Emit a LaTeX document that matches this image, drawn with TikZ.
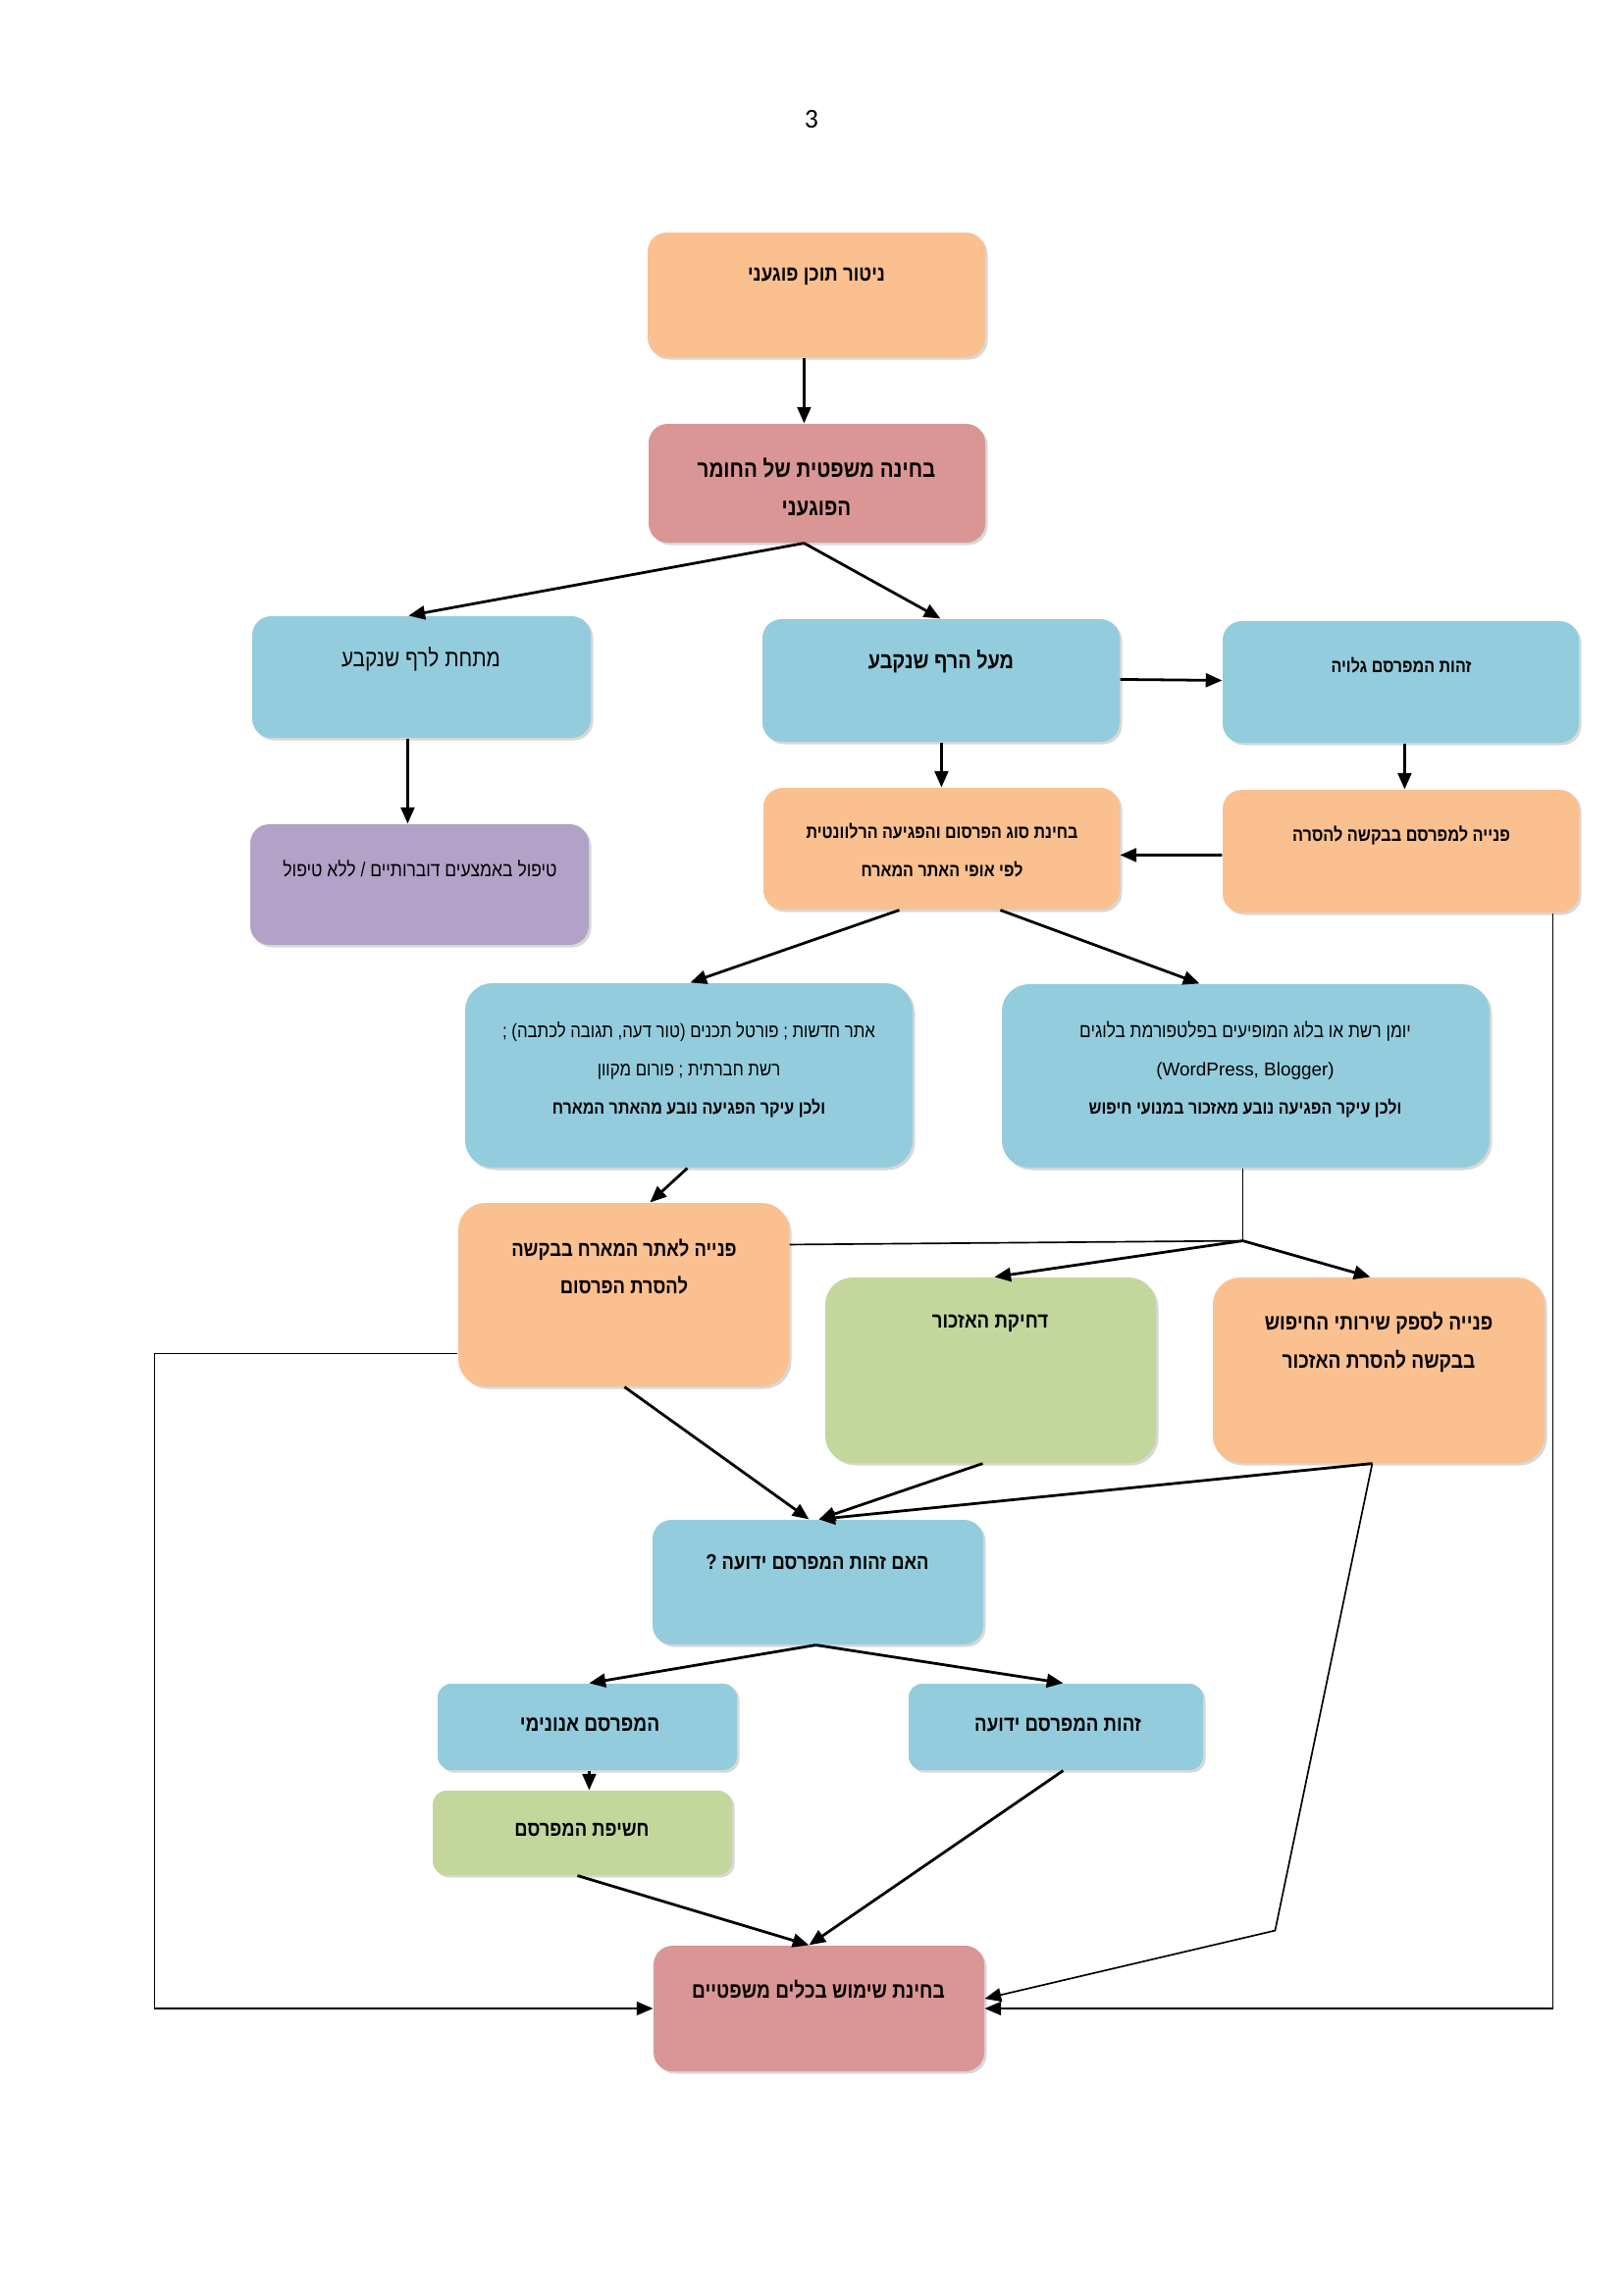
\documentclass[tikz,border=0pt]{standalone}
\usepackage{fontspec}
\usetikzlibrary{arrows.meta,calc,fit,shadows}
\TeXXeTstate=1
\newfontfamily\heb[Script=Hebrew, FakeStretch=0.85]{Liberation Sans}
\newfontfamily\latn{Liberation Sans}
\newfontfamily\pgnum{Carlito}
\newcommand{\hebline}[1]{\beginR #1\endR}
\definecolor{orng}{HTML}{FAC08F}
\definecolor{rose}{HTML}{D99694}
\definecolor{blu}{HTML}{93CDDD}
\definecolor{purp}{HTML}{B3A2C7}
\definecolor{grn}{HTML}{C3D69B}
\tikzset{
  bx/.style={fill=#1, draw=none, rounded corners=7pt, inner sep=0pt,
     drop shadow={shadow xshift=0.9pt, shadow yshift=-0.9pt, fill=black!30}},
  txt/.style={align=center, inner sep=0pt, text=black},
  hb/.style={font=\heb\bfseries\fontsize{#1}{14}\selectfont},
  hr/.style={font=\heb\fontsize{#1}{14}\selectfont},
  arr/.style={draw, line width=1pt, -{Triangle[length=6pt,width=5pt]}},
  thinarr/.style={draw, line width=0.6pt, -{Triangle[length=6pt,width=5pt]}},
  thinln/.style={draw, line width=0.6pt},
}
\begin{document}
\begin{tikzpicture}[x=0.3597pt,y=-0.3597pt]
\useasboundingbox (0,0) rectangle (1655,2338);
\fill[white] (0,0) rectangle (1655,2338);
\node[font=\pgnum\fontsize{10}{12}\selectfont] (pg) at (827,122) {3};
% boxes
\node[bx=orng, fit={(660,237)(1004,364)}] (b1) {};
\node[bx=rose, fit={(661,432)(1004,553)}] (b2) {};
\node[bx=blu,  fit={(257,628)(602,752)}] (b3) {};
\node[bx=purp, fit={(255,840)(600,963)}] (b4) {};
\node[bx=blu,  fit={(777,631)(1141,756)}] (b5) {};
\node[bx=blu,  fit={(1246,633)(1609,757)}] (b6) {};
\node[bx=orng, fit={(778,803)(1141,927)}] (b7) {};
\node[bx=orng, fit={(1246,805)(1609,930)}] (b8) {};
\node[bx=blu,  rounded corners=10pt, fit={(474,1002)(930,1190)}] (b9) {};
\node[bx=blu,  rounded corners=10pt, fit={(1021,1003)(1518,1190)}] (b10) {};
\node[bx=orng, rounded corners=10pt, fit={(467,1226)(804,1413)}] (b11) {};
\node[bx=grn,  rounded corners=10pt, fit={(841,1302)(1178,1491)}] (b12) {};
\node[bx=orng, rounded corners=10pt, fit={(1236,1302)(1574,1491)}] (b13) {};
\node[bx=blu,  fit={(665,1549)(1002,1676)}] (b14) {};
\node[bx=blu,  rounded corners=5pt, fit={(446,1716)(751,1804)}] (b15) {};
\node[bx=blu,  rounded corners=5pt, fit={(926,1716)(1226,1804)}] (b16) {};
\node[bx=grn,  rounded corners=5pt, fit={(441,1825)(746,1911)}] (b17) {};
\node[bx=rose, fit={(666,1983)(1003,2111)}] (b18) {};
% texts
\node[txt, hb=7.9] (t1) at (832,282) {\hebline{ניטור תוכן פוגעני}};
\node[txt, hb=8.7] (t2) at (832,496) {\hebline{בחינה משפטית של החומר}\\\hebline{הפוגעני}};
\node[txt, hr=8.8] (t3) at (429,672) {\hebline{מתחת לרף שנקבע}};
\node[txt, hr=7.4] (t4) at (428,885) {\hebline{טיפול באמצעים דוברותיים / ללא טיפול}};
\node[txt, hb=8.4] (t5) at (959,674) {\hebline{מעל הרף שנקבע}};
\node[txt, hb=6.8] (t6) at (1428,678) {\hebline{זהות המפרסם גלויה}};
\node[txt, hb=6.8] (t7) at (960,867) {\hebline{בחינת סוג הפרסום והפגיעה הרלוונטית}\\\hebline{לפי אופי האתר המארח}};
\node[txt, hb=6.9] (t8) at (1428,851) {\hebline{פנייה למפרסם בבקשה להסרה}};
\node[txt, hr=7.1] (t9) at (702,1090) {\hebline{אתר חדשות ; פורטל תכנים (טור דעה, תגובה לכתבה) ;}\\\hebline{רשת חברתית ; פורום מקוון}\\\bfseries\fontsize{6.8}{14}\selectfont\hebline{ולכן עיקר הפגיעה נובע מהאתר המארח}};
\node[txt, hr=7.3] (t10) at (1269,1090) {\hebline{יומן רשת או בלוג המופיעים בפלטפורמת בלוגים}\\{\latn\fontsize{6.8}{14}\selectfont (WordPress, Blogger)}\\\bfseries\fontsize{6.8}{14}\selectfont\hebline{ולכן עיקר הפגיעה נובע מאזכור במנועי חיפוש}};
\node[txt, hb=7.8] (t11) at (636,1291) {\hebline{פנייה לאתר המארח בבקשה}\\\hebline{להסרת הפרסום}};
\node[txt, hb=7.9] (t12) at (1009,1349) {\hebline{דחיקת האזכור}};
\node[txt, hb=8.1] (t13) at (1405,1368) {\hebline{פנייה לספק שירותי החיפוש}\\\hebline{בבקשה להסרת האזכור}};
\node[txt, hb=7.8] (t14) at (833,1592) {\hebline{האם זהות המפרסם ידועה ?}};
\node[txt, hb=8.1] (t15) at (601,1758) {\hebline{המפרסם אנונימי}};
\node[txt, hb=7.9] (t16) at (1078,1758) {\hebline{זהות המפרסם ידועה}};
\node[txt, hb=7.8] (t17) at (593,1865) {\hebline{חשיפת המפרסם}};
\node[txt, hb=8.1] (t18) at (834,2028) {\hebline{בחינת שימוש בכלים משפטיים}};
% connectors
\draw[arr] ($(b1.south west)+(160,0)$) -- ($(b2.north west)+(159,0)$);
\draw[arr] ($(b2.south west)+(159,0)$) -- ($(b3.north west)+(160,0)$);
\draw[arr] ($(b2.south west)+(159,0)$) -- ($(b5.north west)+(182,0)$);
\draw[arr] ($(b3.south west)+(159,0)$) -- ($(b4.north west)+(161,0)$);
\draw[arr] ($(b5.north east)+(0,62)$) -- ($(b6.north west)+(0,61)$);
\draw[arr] ($(b5.south west)+(183,0)$) -- ($(b7.north west)+(182,0)$);
\draw[arr] ($(b6.south west)+(186,0)$) -- ($(b8.north west)+(186,0)$);
\draw[arr] ($(b8.north west)+(0,67)$) -- ($(b7.north east)+(0,69)$);
\draw[thinarr] ($(b8.south west)+(337,0)$) |- (b18.east);
\draw[arr] ($(b7.south west)+(139,0)$) -- ($(b9.north west)+(230,0)$);
\draw[arr] ($(b7.south west)+(242,0)$) -- ($(b10.north west)+(202,0)$);
\draw[arr] ($(b9.south west)+(227,0)$) -- ($(b11.north west)+(196,0)$);
\coordinate (j) at ($(b10.south west)+(246,74)$);
\draw[thinln] ($(b10.south west)+(246,0)$) -- (j);
\draw[thinln] (j) -- ($(b11.north east)+(0,43)$);
\draw[arr] (j) -- ($(b12.north west)+(173,0)$);
\draw[arr] (j) -- ($(b13.north west)+(161,0)$);
\draw[thinarr] ($(b11.south west)+(0,-34)$) -- ++(-309,0) |- (b18.west);
\draw[arr] ($(b11.south west)+(170,0)$) -- ($(b14.north west)+(160,0)$);
\draw[arr] ($(b12.south west)+(161,0)$) -- ($(b14.north west)+(170,0)$);
\draw[arr] ($(b13.south west)+(163,0)$) -- ($(b14.north west)+(170,0)$);
\draw[thinarr] ($(b13.south west)+(163,0)$) -- ++(-99,476) -- ($(b18.east)+(0,-10)$);
\draw[arr] ($(b14.south west)+(167,0)$) -- ($(b15.north west)+(155,0)$);
\draw[arr] ($(b14.south west)+(167,0)$) -- ($(b16.north west)+(158,0)$);
\draw[arr] ($(b15.south west)+(155,0)$) -- ($(b17.north west)+(160,0)$);
\draw[arr] ($(b17.south west)+(148,0)$) -- ($(b18.north west)+(159,0)$);
\draw[arr] ($(b16.south west)+(158,0)$) -- ($(b18.north west)+(159,0)$);
\end{tikzpicture}
\end{document}
